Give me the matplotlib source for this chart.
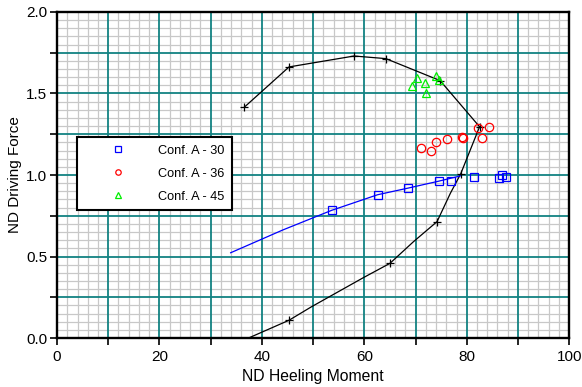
import matplotlib
matplotlib.use('Agg')
import matplotlib.pyplot as plt
from matplotlib.ticker import MultipleLocator, FuncFormatter

plt.rcParams['font.family'] = ['Liberation Sans', 'DejaVu Sans']

# Conf. A - 30 (blue squares) and its fitted line
sq_x = [53.6, 62.6, 68.6, 74.5, 77.0, 81.5, 86.3, 86.9, 87.7]
sq_y = [0.783, 0.879, 0.918, 0.965, 0.963, 0.988, 0.980, 0.998, 0.986]
fit_x = [33.9, 44.1, 53.6, 62.6, 68.6, 74.5, 78.7]
fit_y = [0.523, 0.663, 0.783, 0.879, 0.920, 0.962, 0.994]

# Conf. A - 36 (red circles)
ci_x = [71.0, 73.0, 74.0, 76.1, 79.0, 79.3, 82.1, 84.4, 82.9]
ci_y = [1.166, 1.147, 1.202, 1.221, 1.235, 1.227, 1.288, 1.296, 1.227]

# Conf. A - 45 (green triangles)
tr_x = [69.4, 70.3, 71.9, 72.0, 73.9, 74.5]
tr_y = [1.546, 1.593, 1.563, 1.503, 1.605, 1.583]

# black envelope curve (upper branch then lower branch)
env_x = [36.6, 45.3, 58.0, 64.2, 74.8, 82.5, 79.9, 78.8, 76.8, 74.2, 69.6, 65.0, 59.8, 49.7, 45.3, 37.4]
env_y = [1.417, 1.663, 1.730, 1.714, 1.579, 1.296, 1.092, 1.006, 0.888, 0.714, 0.591, 0.458, 0.370, 0.192, 0.109, 0.0]
env_mark = [0, 1, 2, 3, 4, 5, 7, 9, 11, 14]

teal = '#128282'

fig = plt.figure(figsize=(5.82, 3.87), dpi=100)
ax = fig.add_axes([0.098, 0.1266, 0.88, 0.8424])

ax.plot(env_x, env_y, color='black', lw=0.9, marker='+', ms=6, mew=0.9,
        markevery=env_mark, zorder=3)
ax.plot(fit_x, fit_y, color='#0000ff', lw=0.9, zorder=3)
ax.plot(sq_x, sq_y, ls='none', marker='s', ms=6, mfc='none', mec='#0000ff',
        mew=0.9, label='Conf. A - 30', zorder=4)
ax.plot(ci_x, ci_y, ls='none', marker='o', ms=6, mfc='none', mec='#ff0000',
        mew=0.9, label='Conf. A - 36', zorder=4)
ax.plot(tr_x, tr_y, ls='none', marker='^', ms=6, mfc='none', mec='#00ee00',
        mew=0.9, label='Conf. A - 45', zorder=4)

ax.set_xlim(0, 100)
ax.set_ylim(0, 2.0)

ax.xaxis.set_major_locator(MultipleLocator(10))
ax.xaxis.set_minor_locator(MultipleLocator(2))
ax.yaxis.set_major_locator(MultipleLocator(0.25))
ax.yaxis.set_minor_locator(MultipleLocator(0.05))
ax.xaxis.set_major_formatter(FuncFormatter(lambda v, p: '%d' % v if round(v) % 20 == 0 else ''))
ax.yaxis.set_major_formatter(FuncFormatter(lambda v, p: '%.1f' % v if abs(v * 2 - round(v * 2)) < 1e-6 else ''))

# light minor grid, then the teal major grid on top of it
ax.grid(which='minor', color='#c8c8c8', lw=0.9)
ax.set_axisbelow(True)
for v in ax.get_xticks():
    if 0 < v < 100:
        ax.axvline(v, color=teal, lw=1.3, zorder=1)
for v in ax.get_yticks():
    if 0 < v < 2.0:
        ax.axhline(v, color=teal, lw=1.3, zorder=1)

ax.tick_params(which='major', direction='out', length=5, width=1.2, labelsize=11, colors='black')
ax.tick_params(axis='y', which='major', pad=2)
ax.tick_params(which='minor', length=0)

for side in ['left', 'bottom', 'top', 'right']:
    ax.spines[side].set_linewidth(1.7)

ax.set_xlabel('ND Heeling Moment', fontsize=11.3, labelpad=4)
ax.set_ylabel('ND Driving Force', fontsize=11, labelpad=3)

leg = ax.legend(loc='upper left', bbox_to_anchor=(0.039, 0.616), borderaxespad=0,
                fontsize=9.2, markerscale=0.65, handlelength=5.2, handletextpad=0.5,
                borderpad=0.6, labelspacing=0.85, fancybox=False, framealpha=1,
                edgecolor='black')
leg.get_frame().set_linewidth(1.5)

plt.savefig('out.png', dpi=100)
